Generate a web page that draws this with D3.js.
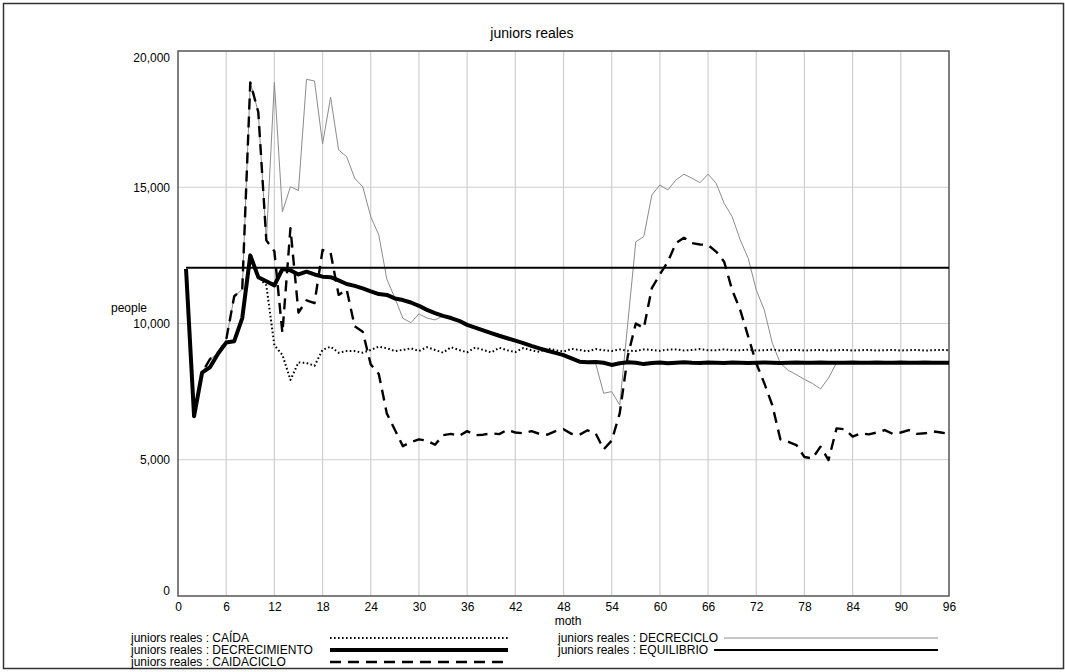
<!DOCTYPE html>
<html>
<head>
<meta charset="utf-8">
<script src="https://cdn.jsdelivr.net/npm/d3@7"></script>
<style>
  body { margin: 0; background: #fff; }
  svg text { font-family: Arial, "Liberation Sans", sans-serif; fill: #000; }
</style>
</head>
<body>
<div id="chart"></div>
<script>
// time axis (months 1..96)
var months = d3.range(1, 97);
var xTicks = [0, 6, 12, 18, 24, 30, 36, 42, 48, 54, 60, 66, 72, 78, 84, 90, 96];
var yTicks = [0, 5000, 10000, 15000, 20000];

// juniors reales : CAÍDA
var caida = [12000, 6600, 8200, 8400, 8900, 9300, 9350, 10200, 12500, 11700,
  11400, 9200, 8850, 7930, 8570, 8550, 8450, 9030, 9150, 8930,
  8990, 8990, 8930, 9030, 9150, 9090, 8990, 9030, 9090, 8990,
  9130, 9030, 8930, 9130, 9030, 8940, 9120, 9030, 8940, 9110,
  9020, 8950, 9100, 9020, 8960, 9090, 9020, 8970, 9070, 9030,
  8980, 9060, 9020, 8990, 9050, 9000, 8990, 9050, 9030, 9000,
  9040, 9050, 9010, 9030, 9060, 9020, 9020, 9050, 9020, 9020,
  9040, 9010, 9020, 9040, 9010, 9020, 9030, 9010, 9020, 9030,
  9010, 9020, 9030, 9010, 9020, 9030, 9010, 9020, 9030, 9010,
  9020, 9030, 9010, 9020, 9030, 9020];

// juniors reales : DECRECIMIENTO
var decrecimiento = [12000, 6600, 8200, 8400, 8900, 9300, 9350, 10200, 12500, 11700,
  11550, 11400, 12000, 11950, 11800, 11900, 11800, 11720, 11700, 11580,
  11450, 11380, 11290, 11180, 11080, 11050, 10920, 10860, 10770, 10650,
  10500, 10380, 10280, 10200, 10100, 9950, 9850, 9750, 9650, 9550,
  9460, 9370, 9280, 9180, 9090, 9000, 8920, 8840, 8720, 8600,
  8580, 8590, 8560, 8480, 8540, 8580, 8560, 8510, 8550, 8570,
  8540, 8560, 8580, 8560, 8550, 8570, 8560, 8550, 8570, 8560,
  8550, 8560, 8570, 8560, 8550, 8560, 8570, 8560, 8560, 8570,
  8560, 8560, 8560, 8570, 8560, 8560, 8570, 8560, 8560, 8570,
  8560, 8560, 8570, 8560, 8560, 8560];

// juniors reales : CAIDACICLO
var caidaciclo = [12000, 6600, 8200, 8700, 8900, 9400, 11000, 11250, 18850, 17750,
  13050, 12650, 9650, 13500, 10400, 10850, 10750, 12700, 12600, 11050,
  11250, 9900, 9700, 8500, 8150, 6700, 6100, 5500, 5650, 5750,
  5700, 5550, 5900, 5950, 5870, 6050, 5900, 5920, 5970, 5940,
  6100, 6000, 5970, 6050, 5950, 5920, 6050, 6120, 5950, 5920,
  6080, 5970, 5380, 5700, 6700, 8800, 10000, 9830, 11300, 11800,
  12270, 12950, 13150, 12950, 12900, 12880, 12640, 12270, 11230, 10500,
  9520, 8540, 7810, 7000, 5750, 5660, 5540, 5100, 5050, 5480,
  4990, 6150, 6120, 5850, 5970, 5930, 6000, 6090, 5950, 6000,
  6090, 5950, 5970, 6040, 6000, 5950];

// juniors reales : DECRECICLO
var decreciclo = [12000, 6600, 8200, 8700, 8900, 9400, 11000, 11250, 18850, 17750,
  13050, 18850, 14100, 15020, 14880, 18960, 18900, 16590, 18300, 16370,
  16120, 15330, 15020, 13920, 13250, 11630, 10940, 10190, 10030, 10350,
  10200, 10130, 10280, 10200, 10100, 9950, 9850, 9750, 9650, 9550,
  9460, 9370, 9280, 9180, 9090, 9000, 8920, 8840, 8720, 8600,
  8580, 8540, 7440, 7500, 7010, 10000, 13000, 13190, 14720, 15080,
  14900, 15270, 15480, 15330, 15170, 15480, 15150, 14410, 13920, 13070,
  12390, 11230, 10500, 9280, 8540, 8280, 8120, 7950, 7800, 7600,
  8000, 8560, 8560, 8570, 8560, 8560, 8570, 8560, 8560, 8570,
  8560, 8560, 8570, 8560, 8560, 8560];

// juniors reales : EQUILIBRIO
var equilibrio = [12050, 12050, 12050, 12050, 12050, 12050, 12050, 12050, 12050, 12050,
  12050, 12050, 12050, 12050, 12050, 12050, 12050, 12050, 12050, 12050,
  12050, 12050, 12050, 12050, 12050, 12050, 12050, 12050, 12050, 12050,
  12050, 12050, 12050, 12050, 12050, 12050, 12050, 12050, 12050, 12050,
  12050, 12050, 12050, 12050, 12050, 12050, 12050, 12050, 12050, 12050,
  12050, 12050, 12050, 12050, 12050, 12050, 12050, 12050, 12050, 12050,
  12050, 12050, 12050, 12050, 12050, 12050, 12050, 12050, 12050, 12050,
  12050, 12050, 12050, 12050, 12050, 12050, 12050, 12050, 12050, 12050,
  12050, 12050, 12050, 12050, 12050, 12050, 12050, 12050, 12050, 12050,
  12050, 12050, 12050, 12050, 12050, 12050];

var width = 1065, height = 672;
var plot = {left: 178, top: 51, right: 949, bottom: 596};

var svg = d3.select("#chart").append("svg")
    .attr("width", width)
    .attr("height", height);

// outer frame
svg.append("rect")
    .attr("x", 3.5).attr("y", 3.5)
    .attr("width", 1060).attr("height", 665)
    .attr("fill", "none")
    .attr("stroke", "#333")
    .attr("stroke-width", 1.5);

var x = d3.scaleLinear().domain([0, 96]).range([plot.left, plot.right]);
var y = d3.scaleLinear().domain([0, 20000]).range([plot.bottom, plot.top]);

// grid
svg.append("g").selectAll("line")
  .data(xTicks.slice(1, -1))
  .enter().append("line")
    .attr("x1", function(d) { return x(d); })
    .attr("x2", function(d) { return x(d); })
    .attr("y1", plot.top).attr("y2", plot.bottom)
    .attr("stroke", "#cfcfcf").attr("stroke-width", 1.2);
svg.append("g").selectAll("line")
  .data(yTicks.slice(1, -1))
  .enter().append("line")
    .attr("x1", plot.left).attr("x2", plot.right)
    .attr("y1", function(d) { return y(d); })
    .attr("y2", function(d) { return y(d); })
    .attr("stroke", "#cfcfcf").attr("stroke-width", 1.2);

// axes (labels only, the box is drawn separately)
var yAxis = svg.append("g")
    .attr("transform", "translate(" + plot.left + ",0)")
    .call(d3.axisLeft(y).tickValues(yTicks).tickSize(0).tickPadding(8).tickFormat(d3.format(",")));
yAxis.select(".domain").remove();
yAxis.selectAll("text")
    .style("font-size", "12px")
    .attr("transform", function(d) {
      // first and last labels are kept inside the plot range
      var yy = y(d), c = Math.max(plot.top + 7, Math.min(plot.bottom - 5, yy));
      return "translate(0," + (c - yy) + ")";
    });

var xAxis = svg.append("g")
    .attr("transform", "translate(0," + plot.bottom + ")")
    .call(d3.axisBottom(x).tickValues(xTicks).tickSize(0).tickPadding(6));
xAxis.select(".domain").remove();
xAxis.selectAll("text").style("font-size", "12px");

// plot box
svg.append("rect")
    .attr("x", plot.left).attr("y", plot.top)
    .attr("width", plot.right - plot.left).attr("height", plot.bottom - plot.top)
    .attr("fill", "none")
    .attr("stroke", "#555")
    .attr("stroke-width", 1.5);

// titles
svg.append("text")
    .attr("x", 532).attr("y", 38)
    .attr("text-anchor", "middle")
    .style("font-size", "14px")
    .text("juniors reales");
svg.append("text")
    .attr("x", 111).attr("y", 312)
    .style("font-size", "12px")
    .text("people");
svg.append("text")
    .attr("x", 568).attr("y", 625)
    .attr("text-anchor", "middle")
    .style("font-size", "12px")
    .text("moth");

// series
var series = [
  {name: "juniors reales : DECRECICLO", values: decreciclo, color: "#8c8c8c", w: 1, dash: null},
  {name: "juniors reales : CAÍDA", values: caida, color: "#000", w: 2, dash: "1.6,2.4"},
  {name: "juniors reales : CAIDACICLO", values: caidaciclo, color: "#000", w: 2.4, dash: "11,7"},
  {name: "juniors reales : EQUILIBRIO", values: equilibrio, color: "#000", w: 2, dash: null},
  {name: "juniors reales : DECRECIMIENTO", values: decrecimiento, color: "#000", w: 4, dash: null}
];

var line = d3.line()
    .x(function(d, i) { return x(months[i]); })
    .y(function(d) { return y(d); });

svg.append("g").selectAll("path")
  .data(series)
  .enter().append("path")
    .attr("d", function(d) { return line(d.values); })
    .attr("fill", "none")
    .attr("stroke", function(d) { return d.color; })
    .attr("stroke-width", function(d) { return d.w; })
    .attr("stroke-dasharray", function(d) { return d.dash; })
    .attr("stroke-linejoin", "round");

// legend
var legendItems = [
  {s: series[1], tx: 131, ty: 642, lx1: 330, lx2: 508},
  {s: series[4], tx: 131, ty: 654, lx1: 330, lx2: 508},
  {s: series[2], tx: 131, ty: 666, lx1: 330, lx2: 508},
  {s: series[0], tx: 558, ty: 642, lx1: null, lx2: 938},
  {s: series[3], tx: 558, ty: 654, lx1: null, lx2: 938}
];

var legend = svg.append("g").selectAll("g")
  .data(legendItems)
  .enter().append("g");

legend.append("text")
    .attr("x", function(d) { return d.tx; })
    .attr("y", function(d) { return d.ty; })
    .style("font-size", "12px")
    .text(function(d) { return d.s.name; });

legend.append("line")
    .attr("x1", function(d) {
      if (d.lx1 != null) return d.lx1;
      var t = d3.select(this.parentNode).select("text").node();
      return d.tx + t.getComputedTextLength() + 6;
    })
    .attr("x2", function(d) { return d.lx2; })
    .attr("y1", function(d) { return d.ty - 4; })
    .attr("y2", function(d) { return d.ty - 4; })
    .attr("stroke", function(d) { return d.s.color; })
    .attr("stroke-width", function(d) { return d.s.w; })
    .attr("stroke-dasharray", function(d) { return d.s.dash; });
</script>
</body>
</html>
